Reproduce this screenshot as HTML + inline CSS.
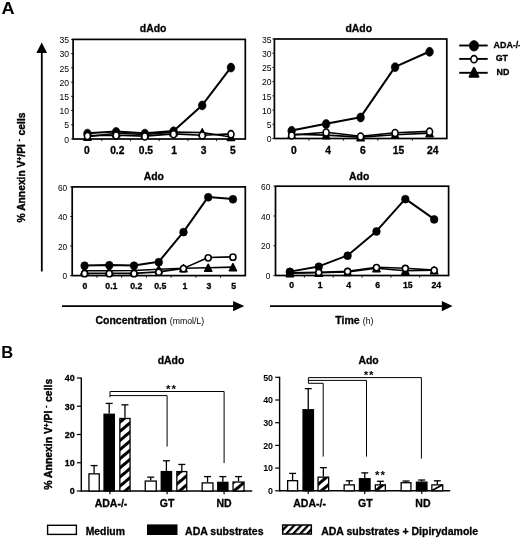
<!DOCTYPE html>
<html><head><meta charset="utf-8"><title>Figure</title>
<style>
html,body{margin:0;padding:0;background:#fff;}
body{width:520px;height:538px;overflow:hidden;}
svg{display:block;will-change:transform;}
text{font-family:"Liberation Sans",sans-serif;fill:#000;}
text[font-weight="bold"]{stroke:#000;stroke-width:0.3px;stroke-linejoin:round;}
text.yl{stroke-width:0.4px;}
text tspan[font-weight="normal"]{stroke:none;}
</style></head><body>
<svg width="520" height="538" viewBox="0 0 520 538">
<defs>
<pattern id="hatch" width="7" height="7" patternUnits="userSpaceOnUse" patternTransform="rotate(-40)">
<rect x="0" y="0" width="7" height="3" fill="#000"/>
</pattern>
<pattern id="hatchL" width="5.1" height="5.1" patternUnits="userSpaceOnUse" patternTransform="translate(1.5,0) rotate(-47)">
<rect x="0" y="0" width="5.1" height="2.3" fill="#000"/>
</pattern>
</defs>
<rect x="0" y="0" width="520" height="538" fill="#fff"/>

<text transform="translate(1.6,13.9) scale(1.1,1)" font-size="16.5" font-weight="bold" style="stroke:none">A</text>
<text transform="translate(1.3,358.0) scale(1.0,1)" font-size="16.5" font-weight="bold" style="stroke:none">B</text>
<line x1="41.8" y1="271.5" x2="41.8" y2="50" stroke="#000" stroke-width="1.8"/>
<path d="M41.7 42.5L36.3 53L47.1 53Z" fill="#000"/>
<text class="yl" transform="translate(25.1,222.5) rotate(-90)" font-size="10.3" font-weight="bold">% Annexin V<tspan font-size="6.5" dy="-3.6">+</tspan><tspan dy="3.6">/PI </tspan><tspan font-size="6.5" dy="-4.2">-</tspan><tspan dy="4.2" dx="0.8"> cells</tspan></text>
<rect x="73.1" y="39.4" width="172.20" height="99.60" fill="none" stroke="#000" stroke-width="1.7"/>
<line x1="71.10" y1="139.00" x2="73.1" y2="139.00" stroke="#000" stroke-width="0.9"/>
<text x="69.1" y="142.70" font-size="8.6" text-anchor="end">0</text>
<line x1="71.10" y1="124.77" x2="73.1" y2="124.77" stroke="#000" stroke-width="0.9"/>
<text x="69.1" y="128.47" font-size="8.6" text-anchor="end">5</text>
<line x1="71.10" y1="110.54" x2="73.1" y2="110.54" stroke="#000" stroke-width="0.9"/>
<text x="69.1" y="114.24" font-size="8.6" text-anchor="end">10</text>
<line x1="71.10" y1="96.31" x2="73.1" y2="96.31" stroke="#000" stroke-width="0.9"/>
<text x="69.1" y="100.01" font-size="8.6" text-anchor="end">15</text>
<line x1="71.10" y1="82.09" x2="73.1" y2="82.09" stroke="#000" stroke-width="0.9"/>
<text x="69.1" y="85.79" font-size="8.6" text-anchor="end">20</text>
<line x1="71.10" y1="67.86" x2="73.1" y2="67.86" stroke="#000" stroke-width="0.9"/>
<text x="69.1" y="71.56" font-size="8.6" text-anchor="end">25</text>
<line x1="71.10" y1="53.63" x2="73.1" y2="53.63" stroke="#000" stroke-width="0.9"/>
<text x="69.1" y="57.33" font-size="8.6" text-anchor="end">30</text>
<line x1="71.10" y1="39.40" x2="73.1" y2="39.40" stroke="#000" stroke-width="0.9"/>
<text x="69.1" y="43.10" font-size="8.6" text-anchor="end">35</text>
<line x1="101.80" y1="139.0" x2="101.80" y2="141.20" stroke="#000" stroke-width="0.9"/>
<line x1="130.50" y1="139.0" x2="130.50" y2="141.20" stroke="#000" stroke-width="0.9"/>
<line x1="159.20" y1="139.0" x2="159.20" y2="141.20" stroke="#000" stroke-width="0.9"/>
<line x1="187.90" y1="139.0" x2="187.90" y2="141.20" stroke="#000" stroke-width="0.9"/>
<line x1="216.60" y1="139.0" x2="216.60" y2="141.20" stroke="#000" stroke-width="0.9"/>
<text x="86.80" y="153.8" font-size="10.3" font-weight="bold" text-anchor="middle">0</text>
<text x="117.30" y="153.8" font-size="10.3" font-weight="bold" text-anchor="middle">0.2</text>
<text x="145.90" y="153.8" font-size="10.3" font-weight="bold" text-anchor="middle">0.5</text>
<text x="174.20" y="153.8" font-size="10.3" font-weight="bold" text-anchor="middle">1</text>
<text x="203.70" y="153.8" font-size="10.3" font-weight="bold" text-anchor="middle">3</text>
<text x="232.80" y="153.8" font-size="10.3" font-weight="bold" text-anchor="middle">5</text>
<text x="153.1" y="32.2" font-size="10.4" font-weight="bold" text-anchor="middle">dAdo</text>
<polyline points="87.45,133.31 116.15,131.60 144.85,133.31 173.55,131.03 202.25,105.14 230.95,67.29" fill="none" stroke="#000" stroke-width="2.0" stroke-linejoin="round"/>
<polyline points="87.45,136.72 116.15,133.31 144.85,134.45 173.55,132.17 202.25,132.45 230.95,137.01" fill="none" stroke="#000" stroke-width="1.6" stroke-linejoin="round"/>
<polyline points="87.45,135.59 116.15,135.30 144.85,136.15 173.55,133.88 202.25,135.30 230.95,133.88" fill="none" stroke="#000" stroke-width="1.6" stroke-linejoin="round"/>
<path d="M83.80 140.32L91.10 140.32L87.45 133.12Z" fill="#000" stroke="#000" stroke-width="1.4" stroke-linejoin="round"/>
<path d="M112.50 136.91L119.80 136.91L116.15 129.71Z" fill="#000" stroke="#000" stroke-width="1.4" stroke-linejoin="round"/>
<path d="M141.20 138.05L148.50 138.05L144.85 130.85Z" fill="#000" stroke="#000" stroke-width="1.4" stroke-linejoin="round"/>
<path d="M169.90 135.77L177.20 135.77L173.55 128.57Z" fill="#000" stroke="#000" stroke-width="1.4" stroke-linejoin="round"/>
<path d="M198.60 136.05L205.90 136.05L202.25 128.85Z" fill="#000" stroke="#000" stroke-width="1.4" stroke-linejoin="round"/>
<path d="M227.30 140.61L234.60 140.61L230.95 133.41Z" fill="#000" stroke="#000" stroke-width="1.4" stroke-linejoin="round"/>
<ellipse cx="87.45" cy="133.61" rx="3.8" ry="4.48" fill="#000" stroke="#000" stroke-width="0.6"/>
<ellipse cx="116.15" cy="131.90" rx="3.8" ry="4.48" fill="#000" stroke="#000" stroke-width="0.6"/>
<ellipse cx="144.85" cy="133.61" rx="3.8" ry="4.48" fill="#000" stroke="#000" stroke-width="0.6"/>
<ellipse cx="173.55" cy="131.33" rx="3.8" ry="4.48" fill="#000" stroke="#000" stroke-width="0.6"/>
<ellipse cx="202.25" cy="105.44" rx="3.8" ry="4.48" fill="#000" stroke="#000" stroke-width="0.6"/>
<ellipse cx="230.95" cy="67.59" rx="3.8" ry="4.48" fill="#000" stroke="#000" stroke-width="0.6"/>
<ellipse cx="87.45" cy="135.89" rx="3.0" ry="3.54" fill="#fff" stroke="#000" stroke-width="1.6"/>
<ellipse cx="116.15" cy="135.60" rx="3.0" ry="3.54" fill="#fff" stroke="#000" stroke-width="1.6"/>
<ellipse cx="144.85" cy="136.45" rx="3.0" ry="3.54" fill="#fff" stroke="#000" stroke-width="1.6"/>
<ellipse cx="173.55" cy="134.18" rx="3.0" ry="3.54" fill="#fff" stroke="#000" stroke-width="1.6"/>
<ellipse cx="202.25" cy="135.60" rx="3.0" ry="3.54" fill="#fff" stroke="#000" stroke-width="1.6"/>
<ellipse cx="230.95" cy="134.18" rx="3.0" ry="3.54" fill="#fff" stroke="#000" stroke-width="1.6"/>
<rect x="274.4" y="39.0" width="172.40" height="99.50" fill="none" stroke="#000" stroke-width="1.7"/>
<line x1="272.40" y1="138.50" x2="274.4" y2="138.50" stroke="#000" stroke-width="0.9"/>
<text x="271.5" y="142.20" font-size="8.6" text-anchor="end">0</text>
<line x1="272.40" y1="124.29" x2="274.4" y2="124.29" stroke="#000" stroke-width="0.9"/>
<text x="271.5" y="127.99" font-size="8.6" text-anchor="end">5</text>
<line x1="272.40" y1="110.07" x2="274.4" y2="110.07" stroke="#000" stroke-width="0.9"/>
<text x="271.5" y="113.77" font-size="8.6" text-anchor="end">10</text>
<line x1="272.40" y1="95.86" x2="274.4" y2="95.86" stroke="#000" stroke-width="0.9"/>
<text x="271.5" y="99.56" font-size="8.6" text-anchor="end">15</text>
<line x1="272.40" y1="81.64" x2="274.4" y2="81.64" stroke="#000" stroke-width="0.9"/>
<text x="271.5" y="85.34" font-size="8.6" text-anchor="end">20</text>
<line x1="272.40" y1="67.43" x2="274.4" y2="67.43" stroke="#000" stroke-width="0.9"/>
<text x="271.5" y="71.13" font-size="8.6" text-anchor="end">25</text>
<line x1="272.40" y1="53.21" x2="274.4" y2="53.21" stroke="#000" stroke-width="0.9"/>
<text x="271.5" y="56.91" font-size="8.6" text-anchor="end">30</text>
<line x1="272.40" y1="39.00" x2="274.4" y2="39.00" stroke="#000" stroke-width="0.9"/>
<text x="271.5" y="42.70" font-size="8.6" text-anchor="end">35</text>
<line x1="308.88" y1="138.5" x2="308.88" y2="140.70" stroke="#000" stroke-width="0.9"/>
<line x1="343.36" y1="138.5" x2="343.36" y2="140.70" stroke="#000" stroke-width="0.9"/>
<line x1="377.84" y1="138.5" x2="377.84" y2="140.70" stroke="#000" stroke-width="0.9"/>
<line x1="412.32" y1="138.5" x2="412.32" y2="140.70" stroke="#000" stroke-width="0.9"/>
<text x="293.90" y="153.8" font-size="10.3" font-weight="bold" text-anchor="middle">0</text>
<text x="328.20" y="153.8" font-size="10.3" font-weight="bold" text-anchor="middle">4</text>
<text x="362.80" y="153.8" font-size="10.3" font-weight="bold" text-anchor="middle">6</text>
<text x="398.50" y="153.8" font-size="10.3" font-weight="bold" text-anchor="middle">15</text>
<text x="432.80" y="153.8" font-size="10.3" font-weight="bold" text-anchor="middle">24</text>
<text x="358.8" y="32.2" font-size="10.4" font-weight="bold" text-anchor="middle">dAdo</text>
<polyline points="291.64,130.54 326.12,123.72 360.60,117.18 395.08,66.86 429.56,51.51" fill="none" stroke="#000" stroke-width="2.0" stroke-linejoin="round"/>
<polyline points="291.64,134.24 326.12,135.09 360.60,137.08 395.08,134.80 429.56,133.10" fill="none" stroke="#000" stroke-width="1.6" stroke-linejoin="round"/>
<polyline points="291.64,135.09 326.12,132.25 360.60,136.23 395.08,132.81 429.56,131.39" fill="none" stroke="#000" stroke-width="1.6" stroke-linejoin="round"/>
<path d="M287.99 137.84L295.29 137.84L291.64 130.64Z" fill="#000" stroke="#000" stroke-width="1.4" stroke-linejoin="round"/>
<path d="M322.47 138.69L329.77 138.69L326.12 131.49Z" fill="#000" stroke="#000" stroke-width="1.4" stroke-linejoin="round"/>
<path d="M356.95 140.68L364.25 140.68L360.60 133.48Z" fill="#000" stroke="#000" stroke-width="1.4" stroke-linejoin="round"/>
<path d="M391.43 138.40L398.73 138.40L395.08 131.20Z" fill="#000" stroke="#000" stroke-width="1.4" stroke-linejoin="round"/>
<path d="M425.91 136.70L433.21 136.70L429.56 129.50Z" fill="#000" stroke="#000" stroke-width="1.4" stroke-linejoin="round"/>
<ellipse cx="291.64" cy="130.84" rx="3.8" ry="4.48" fill="#000" stroke="#000" stroke-width="0.6"/>
<ellipse cx="326.12" cy="124.02" rx="3.8" ry="4.48" fill="#000" stroke="#000" stroke-width="0.6"/>
<ellipse cx="360.60" cy="117.48" rx="3.8" ry="4.48" fill="#000" stroke="#000" stroke-width="0.6"/>
<ellipse cx="395.08" cy="67.16" rx="3.8" ry="4.48" fill="#000" stroke="#000" stroke-width="0.6"/>
<ellipse cx="429.56" cy="51.81" rx="3.8" ry="4.48" fill="#000" stroke="#000" stroke-width="0.6"/>
<ellipse cx="291.64" cy="135.39" rx="3.0" ry="3.54" fill="#fff" stroke="#000" stroke-width="1.6"/>
<ellipse cx="326.12" cy="132.55" rx="3.0" ry="3.54" fill="#fff" stroke="#000" stroke-width="1.6"/>
<ellipse cx="360.60" cy="136.53" rx="3.0" ry="3.54" fill="#fff" stroke="#000" stroke-width="1.6"/>
<ellipse cx="395.08" cy="133.11" rx="3.0" ry="3.54" fill="#fff" stroke="#000" stroke-width="1.6"/>
<ellipse cx="429.56" cy="131.69" rx="3.0" ry="3.54" fill="#fff" stroke="#000" stroke-width="1.6"/>
<rect x="72.2" y="186.9" width="173.10" height="88.70" fill="none" stroke="#000" stroke-width="1.7"/>
<line x1="70.20" y1="275.60" x2="72.2" y2="275.60" stroke="#000" stroke-width="0.9"/>
<text x="67.2" y="279.30" font-size="8.3" text-anchor="end">0</text>
<line x1="70.20" y1="246.03" x2="72.2" y2="246.03" stroke="#000" stroke-width="0.9"/>
<text x="67.2" y="249.73" font-size="8.3" text-anchor="end">20</text>
<line x1="70.20" y1="216.47" x2="72.2" y2="216.47" stroke="#000" stroke-width="0.9"/>
<text x="67.2" y="220.17" font-size="8.3" text-anchor="end">40</text>
<line x1="70.20" y1="186.90" x2="72.2" y2="186.90" stroke="#000" stroke-width="0.9"/>
<text x="67.2" y="190.60" font-size="8.3" text-anchor="end">60</text>
<line x1="96.93" y1="275.6" x2="96.93" y2="277.80" stroke="#000" stroke-width="0.9"/>
<line x1="121.66" y1="275.6" x2="121.66" y2="277.80" stroke="#000" stroke-width="0.9"/>
<line x1="146.39" y1="275.6" x2="146.39" y2="277.80" stroke="#000" stroke-width="0.9"/>
<line x1="171.11" y1="275.6" x2="171.11" y2="277.80" stroke="#000" stroke-width="0.9"/>
<line x1="195.84" y1="275.6" x2="195.84" y2="277.80" stroke="#000" stroke-width="0.9"/>
<line x1="220.57" y1="275.6" x2="220.57" y2="277.80" stroke="#000" stroke-width="0.9"/>
<text x="84.90" y="288.6" font-size="8.7" font-weight="bold" text-anchor="middle">0</text>
<text x="111.40" y="288.6" font-size="8.7" font-weight="bold" text-anchor="middle">0.1</text>
<text x="136.30" y="288.6" font-size="8.7" font-weight="bold" text-anchor="middle">0.2</text>
<text x="160.20" y="288.6" font-size="8.7" font-weight="bold" text-anchor="middle">0.5</text>
<text x="184.80" y="288.6" font-size="8.7" font-weight="bold" text-anchor="middle">1</text>
<text x="209.00" y="288.6" font-size="8.7" font-weight="bold" text-anchor="middle">3</text>
<text x="233.70" y="288.6" font-size="8.7" font-weight="bold" text-anchor="middle">5</text>
<text x="153.8" y="179.8" font-size="10.4" font-weight="bold" text-anchor="middle">Ado</text>
<polyline points="84.56,265.40 109.29,264.96 134.02,265.40 158.75,261.85 183.48,231.84 208.21,196.95 232.94,199.02" fill="none" stroke="#000" stroke-width="2.0" stroke-linejoin="round"/>
<polyline points="84.56,270.72 109.29,270.72 134.02,270.57 158.75,269.24 183.48,268.21 208.21,267.76 232.94,267.10" fill="none" stroke="#000" stroke-width="1.6" stroke-linejoin="round"/>
<polyline points="84.56,273.38 109.29,273.38 134.02,273.38 158.75,271.90 183.48,268.36 208.21,257.56 232.94,256.83" fill="none" stroke="#000" stroke-width="1.6" stroke-linejoin="round"/>
<path d="M80.91 274.32L88.21 274.32L84.56 267.12Z" fill="#000" stroke="#000" stroke-width="1.4" stroke-linejoin="round"/>
<path d="M105.64 274.32L112.94 274.32L109.29 267.12Z" fill="#000" stroke="#000" stroke-width="1.4" stroke-linejoin="round"/>
<path d="M130.37 274.17L137.67 274.17L134.02 266.97Z" fill="#000" stroke="#000" stroke-width="1.4" stroke-linejoin="round"/>
<path d="M155.10 272.84L162.40 272.84L158.75 265.64Z" fill="#000" stroke="#000" stroke-width="1.4" stroke-linejoin="round"/>
<path d="M179.83 271.81L187.13 271.81L183.48 264.61Z" fill="#000" stroke="#000" stroke-width="1.4" stroke-linejoin="round"/>
<path d="M204.56 271.36L211.86 271.36L208.21 264.16Z" fill="#000" stroke="#000" stroke-width="1.4" stroke-linejoin="round"/>
<path d="M229.29 270.70L236.59 270.70L232.94 263.50Z" fill="#000" stroke="#000" stroke-width="1.4" stroke-linejoin="round"/>
<ellipse cx="84.56" cy="265.70" rx="3.8" ry="3.95" fill="#000" stroke="#000" stroke-width="0.6"/>
<ellipse cx="109.29" cy="265.26" rx="3.8" ry="3.95" fill="#000" stroke="#000" stroke-width="0.6"/>
<ellipse cx="134.02" cy="265.70" rx="3.8" ry="3.95" fill="#000" stroke="#000" stroke-width="0.6"/>
<ellipse cx="158.75" cy="262.15" rx="3.8" ry="3.95" fill="#000" stroke="#000" stroke-width="0.6"/>
<ellipse cx="183.48" cy="232.14" rx="3.8" ry="3.95" fill="#000" stroke="#000" stroke-width="0.6"/>
<ellipse cx="208.21" cy="197.25" rx="3.8" ry="3.95" fill="#000" stroke="#000" stroke-width="0.6"/>
<ellipse cx="232.94" cy="199.32" rx="3.8" ry="3.95" fill="#000" stroke="#000" stroke-width="0.6"/>
<ellipse cx="84.56" cy="273.68" rx="3.0" ry="3.12" fill="#fff" stroke="#000" stroke-width="1.6"/>
<ellipse cx="109.29" cy="273.68" rx="3.0" ry="3.12" fill="#fff" stroke="#000" stroke-width="1.6"/>
<ellipse cx="134.02" cy="273.68" rx="3.0" ry="3.12" fill="#fff" stroke="#000" stroke-width="1.6"/>
<ellipse cx="158.75" cy="272.20" rx="3.0" ry="3.12" fill="#fff" stroke="#000" stroke-width="1.6"/>
<ellipse cx="183.48" cy="268.66" rx="3.0" ry="3.12" fill="#fff" stroke="#000" stroke-width="1.6"/>
<ellipse cx="208.21" cy="257.86" rx="3.0" ry="3.12" fill="#fff" stroke="#000" stroke-width="1.6"/>
<ellipse cx="232.94" cy="257.13" rx="3.0" ry="3.12" fill="#fff" stroke="#000" stroke-width="1.6"/>
<rect x="275.5" y="186.2" width="173.10" height="89.30" fill="none" stroke="#000" stroke-width="1.7"/>
<line x1="273.50" y1="275.50" x2="275.5" y2="275.50" stroke="#000" stroke-width="0.9"/>
<text x="270.3" y="279.20" font-size="8.3" text-anchor="end">0</text>
<line x1="273.50" y1="245.73" x2="275.5" y2="245.73" stroke="#000" stroke-width="0.9"/>
<text x="270.3" y="249.43" font-size="8.3" text-anchor="end">20</text>
<line x1="273.50" y1="215.97" x2="275.5" y2="215.97" stroke="#000" stroke-width="0.9"/>
<text x="270.3" y="219.67" font-size="8.3" text-anchor="end">40</text>
<line x1="273.50" y1="186.20" x2="275.5" y2="186.20" stroke="#000" stroke-width="0.9"/>
<text x="270.3" y="189.90" font-size="8.3" text-anchor="end">60</text>
<line x1="304.35" y1="275.5" x2="304.35" y2="277.70" stroke="#000" stroke-width="0.9"/>
<line x1="333.20" y1="275.5" x2="333.20" y2="277.70" stroke="#000" stroke-width="0.9"/>
<line x1="362.05" y1="275.5" x2="362.05" y2="277.70" stroke="#000" stroke-width="0.9"/>
<line x1="390.90" y1="275.5" x2="390.90" y2="277.70" stroke="#000" stroke-width="0.9"/>
<line x1="419.75" y1="275.5" x2="419.75" y2="277.70" stroke="#000" stroke-width="0.9"/>
<text x="291.60" y="288.4" font-size="8.7" font-weight="bold" text-anchor="middle">0</text>
<text x="320.20" y="288.4" font-size="8.7" font-weight="bold" text-anchor="middle">1</text>
<text x="348.70" y="288.4" font-size="8.7" font-weight="bold" text-anchor="middle">4</text>
<text x="377.60" y="288.4" font-size="8.7" font-weight="bold" text-anchor="middle">6</text>
<text x="407.80" y="288.4" font-size="8.7" font-weight="bold" text-anchor="middle">15</text>
<text x="436.30" y="288.4" font-size="8.7" font-weight="bold" text-anchor="middle">24</text>
<text x="359.2" y="179.8" font-size="10.4" font-weight="bold" text-anchor="middle">Ado</text>
<polyline points="289.93,271.63 318.77,266.42 347.62,255.41 376.48,231.15 405.33,198.85 434.18,219.09" fill="none" stroke="#000" stroke-width="2.0" stroke-linejoin="round"/>
<polyline points="289.93,273.27 318.77,272.82 347.62,271.93 376.48,268.21 405.33,270.74 434.18,270.29" fill="none" stroke="#000" stroke-width="1.6" stroke-linejoin="round"/>
<polyline points="289.93,272.82 318.77,272.23 347.62,271.18 376.48,267.31 405.33,268.21 434.18,270.14" fill="none" stroke="#000" stroke-width="1.6" stroke-linejoin="round"/>
<path d="M286.28 276.87L293.57 276.87L289.93 269.67Z" fill="#000" stroke="#000" stroke-width="1.4" stroke-linejoin="round"/>
<path d="M315.12 276.42L322.42 276.42L318.77 269.22Z" fill="#000" stroke="#000" stroke-width="1.4" stroke-linejoin="round"/>
<path d="M343.98 275.53L351.27 275.53L347.62 268.33Z" fill="#000" stroke="#000" stroke-width="1.4" stroke-linejoin="round"/>
<path d="M372.83 271.81L380.12 271.81L376.48 264.61Z" fill="#000" stroke="#000" stroke-width="1.4" stroke-linejoin="round"/>
<path d="M401.68 274.34L408.98 274.34L405.33 267.14Z" fill="#000" stroke="#000" stroke-width="1.4" stroke-linejoin="round"/>
<path d="M430.53 273.89L437.83 273.89L434.18 266.69Z" fill="#000" stroke="#000" stroke-width="1.4" stroke-linejoin="round"/>
<ellipse cx="289.93" cy="271.93" rx="3.8" ry="3.95" fill="#000" stroke="#000" stroke-width="0.6"/>
<ellipse cx="318.77" cy="266.72" rx="3.8" ry="3.95" fill="#000" stroke="#000" stroke-width="0.6"/>
<ellipse cx="347.62" cy="255.71" rx="3.8" ry="3.95" fill="#000" stroke="#000" stroke-width="0.6"/>
<ellipse cx="376.48" cy="231.45" rx="3.8" ry="3.95" fill="#000" stroke="#000" stroke-width="0.6"/>
<ellipse cx="405.33" cy="199.15" rx="3.8" ry="3.95" fill="#000" stroke="#000" stroke-width="0.6"/>
<ellipse cx="434.18" cy="219.39" rx="3.8" ry="3.95" fill="#000" stroke="#000" stroke-width="0.6"/>
<ellipse cx="289.93" cy="273.12" rx="3.0" ry="3.12" fill="#fff" stroke="#000" stroke-width="1.6"/>
<ellipse cx="318.77" cy="272.53" rx="3.0" ry="3.12" fill="#fff" stroke="#000" stroke-width="1.6"/>
<ellipse cx="347.62" cy="271.48" rx="3.0" ry="3.12" fill="#fff" stroke="#000" stroke-width="1.6"/>
<ellipse cx="376.48" cy="267.61" rx="3.0" ry="3.12" fill="#fff" stroke="#000" stroke-width="1.6"/>
<ellipse cx="405.33" cy="268.51" rx="3.0" ry="3.12" fill="#fff" stroke="#000" stroke-width="1.6"/>
<ellipse cx="434.18" cy="270.44" rx="3.0" ry="3.12" fill="#fff" stroke="#000" stroke-width="1.6"/>
<ellipse cx="289.93" cy="271.93" rx="3.8" ry="3.95" fill="#000" stroke="#000" stroke-width="0.6"/>
<line x1="459.2" y1="45.5" x2="487.7" y2="45.5" stroke="#000" stroke-width="1.9"/>
<ellipse cx="474.00" cy="45.80" rx="4.7" ry="5.31" fill="#000" stroke="#000" stroke-width="0.6"/>
<line x1="459.2" y1="58.9" x2="487.7" y2="58.9" stroke="#000" stroke-width="1.9"/>
<ellipse cx="474.00" cy="59.20" rx="3.15" ry="3.56" fill="#fff" stroke="#000" stroke-width="1.6"/>
<line x1="459.2" y1="72.8" x2="487.7" y2="72.8" stroke="#000" stroke-width="1.9"/>
<path d="M469.70 76.70L478.30 76.70L474.00 68.10Z" fill="#000" stroke="#000" stroke-width="2.2" stroke-linejoin="round"/>
<text x="493.6" y="47.6" font-size="8.9" font-weight="bold">ADA-/-</text>
<text x="495.7" y="61.1" font-size="8.9" font-weight="bold">GT</text>
<text x="496.6" y="75.2" font-size="8.9" font-weight="bold">ND</text>
<line x1="62" y1="306.1" x2="236" y2="306.1" stroke="#000" stroke-width="1.8"/>
<path d="M244.3 306.1L233.1 300.9L233.1 311.3Z" fill="#000"/>
<line x1="270" y1="306.1" x2="444" y2="306.1" stroke="#000" stroke-width="1.8"/>
<path d="M452.6 306.1L441.8 300.9L441.8 311.3Z" fill="#000"/>
<text x="95.4" y="323.8" font-size="10.5" font-weight="bold">Concentration <tspan font-size="8.7" font-weight="normal" dx="0.3">(mmol/L)</tspan></text>
<text x="335.3" y="323.8" font-size="10.5" font-weight="bold">Time <tspan font-size="8.7" font-weight="normal" dx="0.3">(h)</tspan></text>
<line x1="81.3" y1="377.4" x2="81.3" y2="491.7" stroke="#000" stroke-width="1.4"/>
<line x1="81.3" y1="491.0" x2="252.2" y2="491.0" stroke="#000" stroke-width="1.4"/>
<line x1="76.90" y1="491.00" x2="81.3" y2="491.00" stroke="#000" stroke-width="1.2"/>
<text x="74.70" y="494.30" font-size="8.9" font-weight="bold" text-anchor="end">0</text>
<line x1="76.90" y1="462.75" x2="81.3" y2="462.75" stroke="#000" stroke-width="1.2"/>
<text x="74.70" y="466.05" font-size="8.9" font-weight="bold" text-anchor="end">10</text>
<line x1="76.90" y1="434.50" x2="81.3" y2="434.50" stroke="#000" stroke-width="1.2"/>
<text x="74.70" y="437.80" font-size="8.9" font-weight="bold" text-anchor="end">20</text>
<line x1="76.90" y1="406.25" x2="81.3" y2="406.25" stroke="#000" stroke-width="1.2"/>
<text x="74.70" y="409.55" font-size="8.9" font-weight="bold" text-anchor="end">30</text>
<line x1="76.90" y1="378.00" x2="81.3" y2="378.00" stroke="#000" stroke-width="1.2"/>
<text x="74.70" y="381.30" font-size="8.9" font-weight="bold" text-anchor="end">40</text>
<line x1="94.10" y1="473.20" x2="94.10" y2="465.57" stroke="#000" stroke-width="1.3"/>
<line x1="90.60" y1="465.57" x2="97.60" y2="465.57" stroke="#000" stroke-width="1.3"/>
<rect x="88.95" y="473.85" width="10.30" height="17.15" fill="#fff" stroke="#000" stroke-width="1.3"/>
<line x1="109.20" y1="413.60" x2="109.20" y2="403.43" stroke="#000" stroke-width="1.3"/>
<line x1="105.70" y1="403.43" x2="112.70" y2="403.43" stroke="#000" stroke-width="1.3"/>
<rect x="104.05" y="414.25" width="10.30" height="76.75" fill="#000" stroke="#000" stroke-width="1.3"/>
<line x1="124.95" y1="417.83" x2="124.95" y2="404.84" stroke="#000" stroke-width="1.3"/>
<line x1="121.45" y1="404.84" x2="128.45" y2="404.84" stroke="#000" stroke-width="1.3"/>
<rect x="119.85" y="418.48" width="10.20" height="72.52" fill="#fff"/>
<rect x="119.85" y="418.48" width="10.20" height="72.52" fill="url(#hatch)" stroke="#000" stroke-width="1.3"/>
<line x1="150.75" y1="480.41" x2="150.75" y2="477.16" stroke="#000" stroke-width="1.3"/>
<line x1="147.25" y1="477.16" x2="154.25" y2="477.16" stroke="#000" stroke-width="1.3"/>
<rect x="145.25" y="481.06" width="11.00" height="9.94" fill="#fff" stroke="#000" stroke-width="1.3"/>
<line x1="166.40" y1="470.94" x2="166.40" y2="460.77" stroke="#000" stroke-width="1.3"/>
<line x1="162.90" y1="460.77" x2="169.90" y2="460.77" stroke="#000" stroke-width="1.3"/>
<rect x="161.25" y="471.59" width="10.30" height="19.41" fill="#000" stroke="#000" stroke-width="1.3"/>
<line x1="181.80" y1="470.94" x2="181.80" y2="464.44" stroke="#000" stroke-width="1.3"/>
<line x1="178.30" y1="464.44" x2="185.30" y2="464.44" stroke="#000" stroke-width="1.3"/>
<rect x="176.85" y="471.59" width="9.90" height="19.41" fill="#fff"/>
<rect x="176.85" y="471.59" width="9.90" height="19.41" fill="url(#hatch)" stroke="#000" stroke-width="1.3"/>
<line x1="207.55" y1="482.24" x2="207.55" y2="476.59" stroke="#000" stroke-width="1.3"/>
<line x1="204.05" y1="476.59" x2="211.05" y2="476.59" stroke="#000" stroke-width="1.3"/>
<rect x="202.15" y="482.89" width="10.80" height="8.11" fill="#fff" stroke="#000" stroke-width="1.3"/>
<line x1="222.85" y1="481.68" x2="222.85" y2="476.59" stroke="#000" stroke-width="1.3"/>
<line x1="219.35" y1="476.59" x2="226.35" y2="476.59" stroke="#000" stroke-width="1.3"/>
<rect x="217.75" y="482.33" width="10.20" height="8.67" fill="#000" stroke="#000" stroke-width="1.3"/>
<line x1="238.55" y1="481.39" x2="238.55" y2="476.59" stroke="#000" stroke-width="1.3"/>
<line x1="235.05" y1="476.59" x2="242.05" y2="476.59" stroke="#000" stroke-width="1.3"/>
<rect x="233.05" y="482.04" width="11.00" height="8.96" fill="#fff"/>
<rect x="233.05" y="482.04" width="11.00" height="8.96" fill="url(#hatch)" stroke="#000" stroke-width="1.3"/>
<line x1="109.9" y1="491.0" x2="109.9" y2="494.3" stroke="#000" stroke-width="1.2"/>
<text x="111.0" y="507.4" font-size="10.5" font-weight="bold" text-anchor="middle">ADA-/-</text>
<line x1="167.1" y1="491.0" x2="167.1" y2="494.3" stroke="#000" stroke-width="1.2"/>
<text x="167.1" y="507.4" font-size="10.5" font-weight="bold" text-anchor="middle">GT</text>
<line x1="224.1" y1="491.0" x2="224.1" y2="494.3" stroke="#000" stroke-width="1.2"/>
<text x="224.1" y="507.4" font-size="10.5" font-weight="bold" text-anchor="middle">ND</text>
<text x="171.0" y="364" font-size="10.4" font-weight="bold" text-anchor="middle">dAdo</text>
<line x1="279.6" y1="376.7" x2="279.6" y2="491.5" stroke="#000" stroke-width="1.4"/>
<line x1="279.6" y1="490.8" x2="450.2" y2="490.8" stroke="#000" stroke-width="1.4"/>
<line x1="275.20" y1="490.80" x2="279.6" y2="490.80" stroke="#000" stroke-width="1.2"/>
<text x="273.00" y="494.10" font-size="8.9" font-weight="bold" text-anchor="end" style="stroke:none">0</text>
<line x1="275.20" y1="468.10" x2="279.6" y2="468.10" stroke="#000" stroke-width="1.2"/>
<text x="273.00" y="471.40" font-size="8.9" font-weight="bold" text-anchor="end" style="stroke:none">10</text>
<line x1="275.20" y1="445.40" x2="279.6" y2="445.40" stroke="#000" stroke-width="1.2"/>
<text x="273.00" y="448.70" font-size="8.9" font-weight="bold" text-anchor="end" style="stroke:none">20</text>
<line x1="275.20" y1="422.70" x2="279.6" y2="422.70" stroke="#000" stroke-width="1.2"/>
<text x="273.00" y="426.00" font-size="8.9" font-weight="bold" text-anchor="end" style="stroke:none">30</text>
<line x1="275.20" y1="400.00" x2="279.6" y2="400.00" stroke="#000" stroke-width="1.2"/>
<text x="273.00" y="403.30" font-size="8.9" font-weight="bold" text-anchor="end" style="stroke:none">40</text>
<line x1="275.20" y1="377.30" x2="279.6" y2="377.30" stroke="#000" stroke-width="1.2"/>
<text x="273.00" y="380.60" font-size="8.9" font-weight="bold" text-anchor="end" style="stroke:none">50</text>
<line x1="292.60" y1="480.02" x2="292.60" y2="473.41" stroke="#000" stroke-width="1.3"/>
<line x1="289.10" y1="473.41" x2="296.10" y2="473.41" stroke="#000" stroke-width="1.3"/>
<rect x="287.65" y="480.67" width="9.90" height="10.13" fill="#fff" stroke="#000" stroke-width="1.3"/>
<line x1="308.25" y1="409.08" x2="308.25" y2="388.65" stroke="#000" stroke-width="1.3"/>
<line x1="304.75" y1="388.65" x2="311.75" y2="388.65" stroke="#000" stroke-width="1.3"/>
<rect x="303.05" y="409.73" width="10.40" height="81.07" fill="#000" stroke="#000" stroke-width="1.3"/>
<line x1="323.35" y1="476.50" x2="323.35" y2="467.65" stroke="#000" stroke-width="1.3"/>
<line x1="319.85" y1="467.65" x2="326.85" y2="467.65" stroke="#000" stroke-width="1.3"/>
<rect x="318.05" y="477.15" width="10.60" height="13.65" fill="#fff"/>
<rect x="318.05" y="477.15" width="10.60" height="13.65" fill="url(#hatch)" stroke="#000" stroke-width="1.3"/>
<line x1="349.25" y1="484.22" x2="349.25" y2="480.81" stroke="#000" stroke-width="1.3"/>
<line x1="345.75" y1="480.81" x2="352.75" y2="480.81" stroke="#000" stroke-width="1.3"/>
<rect x="344.15" y="484.87" width="10.20" height="5.93" fill="#fff" stroke="#000" stroke-width="1.3"/>
<line x1="364.75" y1="478.09" x2="364.75" y2="472.87" stroke="#000" stroke-width="1.3"/>
<line x1="361.25" y1="472.87" x2="368.25" y2="472.87" stroke="#000" stroke-width="1.3"/>
<rect x="359.45" y="478.74" width="10.60" height="12.06" fill="#000" stroke="#000" stroke-width="1.3"/>
<line x1="380.35" y1="484.22" x2="380.35" y2="481.27" stroke="#000" stroke-width="1.3"/>
<line x1="376.85" y1="481.27" x2="383.85" y2="481.27" stroke="#000" stroke-width="1.3"/>
<rect x="375.35" y="484.87" width="10.00" height="5.93" fill="#fff"/>
<rect x="375.35" y="484.87" width="10.00" height="5.93" fill="url(#hatch)" stroke="#000" stroke-width="1.3"/>
<line x1="406.05" y1="482.06" x2="406.05" y2="481.04" stroke="#000" stroke-width="1.3"/>
<line x1="402.55" y1="481.04" x2="409.55" y2="481.04" stroke="#000" stroke-width="1.3"/>
<rect x="401.15" y="482.71" width="9.80" height="8.09" fill="#fff" stroke="#000" stroke-width="1.3"/>
<line x1="421.70" y1="481.49" x2="421.70" y2="480.02" stroke="#000" stroke-width="1.3"/>
<line x1="418.20" y1="480.02" x2="425.20" y2="480.02" stroke="#000" stroke-width="1.3"/>
<rect x="416.45" y="482.14" width="10.50" height="8.66" fill="#000" stroke="#000" stroke-width="1.3"/>
<line x1="437.30" y1="484.22" x2="437.30" y2="480.81" stroke="#000" stroke-width="1.3"/>
<line x1="433.80" y1="480.81" x2="440.80" y2="480.81" stroke="#000" stroke-width="1.3"/>
<rect x="431.85" y="484.87" width="10.90" height="5.93" fill="#fff"/>
<line x1="432.00" y1="490.50" x2="442.20" y2="485.12" stroke="#000" stroke-width="1.7"/>
<rect x="431.85" y="484.87" width="10.90" height="5.93" fill="none" stroke="#000" stroke-width="1.3"/>
<line x1="308.2" y1="490.8" x2="308.2" y2="494.1" stroke="#000" stroke-width="1.2"/>
<text x="309.6" y="507.4" font-size="10.5" font-weight="bold" text-anchor="middle">ADA-/-</text>
<line x1="364.7" y1="490.8" x2="364.7" y2="494.1" stroke="#000" stroke-width="1.2"/>
<text x="365.4" y="507.4" font-size="10.5" font-weight="bold" text-anchor="middle">GT</text>
<line x1="421.8" y1="490.8" x2="421.8" y2="494.1" stroke="#000" stroke-width="1.2"/>
<text x="422.9" y="507.4" font-size="10.5" font-weight="bold" text-anchor="middle">ND</text>
<text x="368.5" y="364" font-size="10.4" font-weight="bold" text-anchor="middle">Ado</text>
<text class="yl" transform="translate(52.3,489.7) rotate(-90)" font-size="10.4" font-weight="bold">% Annexin V<tspan font-size="6.5" dy="-3.6">+</tspan><tspan dy="3.6">/PI </tspan><tspan font-size="6.5" dy="-4.2">-</tspan><tspan dy="4.2" dx="0.8"> cells</tspan></text>
<path d="M110 397.2V391.5H224.1V463" fill="none" stroke="#000" stroke-width="1"/>
<path d="M110 395.6H167.1V446.6" fill="none" stroke="#000" stroke-width="1"/>
<text x="171.4" y="392.9" font-size="11.5" font-weight="bold" text-anchor="middle" style="stroke:none;letter-spacing:0.8px">**</text>
<path d="M308.4 383.3V377.6H421.4V458.6" fill="none" stroke="#000" stroke-width="1"/>
<path d="M308.4 380.4H366.5V456.6" fill="none" stroke="#000" stroke-width="1"/>
<path d="M308.4 383.3H323.2V456.6" fill="none" stroke="#000" stroke-width="1"/>
<text x="369.0" y="379.0" font-size="11.5" font-weight="bold" text-anchor="middle" style="stroke:none;letter-spacing:0.8px">**</text>
<text x="380.4" y="478.6" font-size="11.5" font-weight="bold" text-anchor="middle" style="stroke:none;letter-spacing:0.8px">**</text>
<rect x="47.6" y="525.3" width="28.8" height="9.1" fill="#fff" stroke="#000" stroke-width="1.4"/>
<text x="85.7" y="535.3" font-size="10.4" font-weight="bold">Medium</text>
<rect x="147" y="524.4" width="30.5" height="10.6" fill="#000"/>
<text x="185.1" y="535.3" font-size="10.5" font-weight="bold">ADA substrates</text>
<rect x="282.7" y="525.0" width="28.6" height="9.0" fill="#fff"/>
<rect x="282.7" y="525.0" width="28.6" height="9.0" fill="url(#hatchL)" stroke="#000" stroke-width="1.5"/>
<text x="321.2" y="535.3" font-size="10.5" font-weight="bold">ADA substrates + Dipirydamole</text>
</svg></body></html>
